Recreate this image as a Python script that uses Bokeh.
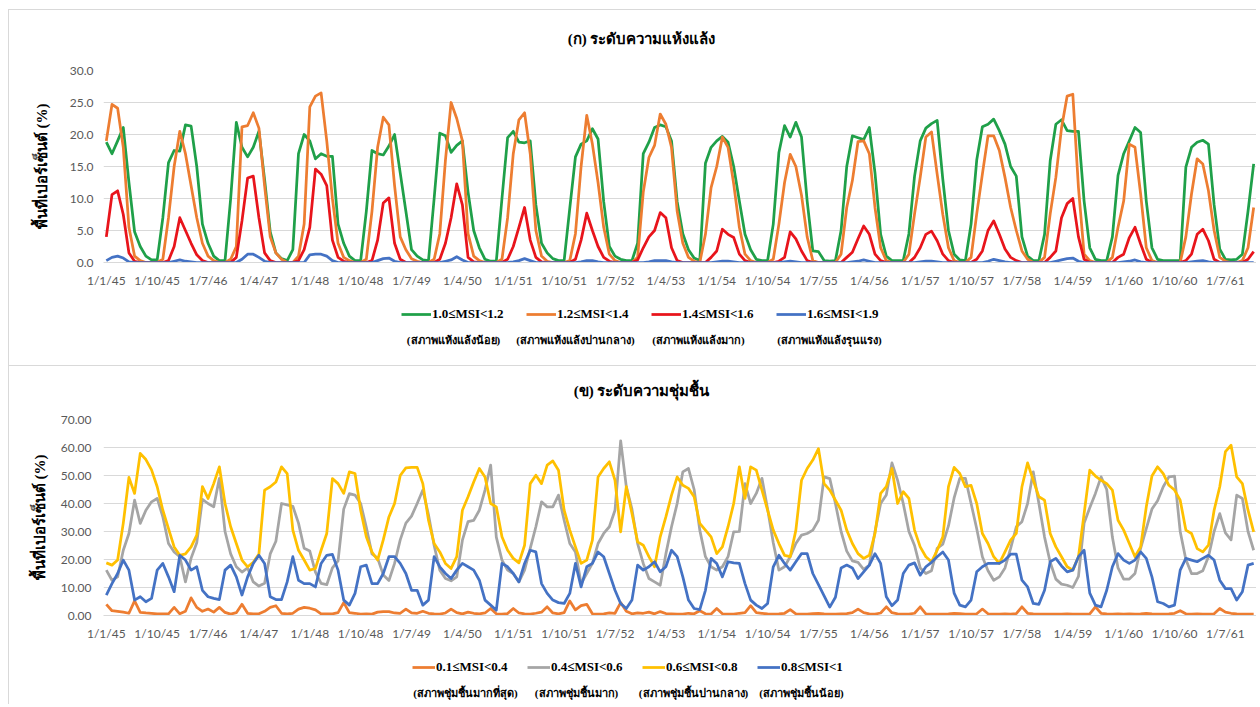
from bokeh.plotting import figure
from bokeh.models import Range1d, FixedTicker, NumeralTickFormatter, Legend, LegendItem, Label
from bokeh.layouts import column
from bokeh.embed import file_html
from bokeh.resources import INLINE

# ---------------- data ----------------
months = list(range(204))  # monthly, 1/1/45 .. 1/12/61

tick_labels = ["1/1/45", "1/10/45", "1/7/46", "1/4/47", "1/1/48", "1/10/48", "1/7/49",
               "1/4/50", "1/1/51", "1/10/51", "1/7/52", "1/4/53", "1/1/54", "1/10/54",
               "1/7/55", "1/4/56", "1/1/57", "1/10/57", "1/7/58", "1/4/59", "1/1/60",
               "1/10/60", "1/7/61"]

# (ก) drought levels, % area
dry_10_12 = [
    18.8, 17.0, 19.0, 21.1, 12.5, 4.8, 2.5, 1.0, 0.4, 0.4, 7.0, 15.6,
    17.5, 17.4, 21.5, 21.3, 15.0, 6.0, 3.0, 1.0, 0.3, 0.3, 10.0, 21.9,
    18.0, 16.5, 18.0, 20.5, 13.0, 4.8, 1.5, 0.6, 0.3, 2.0, 17.0, 20.0,
    19.0, 16.2, 17.0, 16.6, 16.6, 6.0, 3.0, 1.0, 0.3, 0.3, 8.0, 17.5,
    17.0, 16.8, 18.2, 20.0, 14.0, 8.0, 2.0, 1.0, 0.4, 0.3, 10.0, 20.2,
    19.8, 17.2, 18.3, 19.0, 11.0, 5.0, 2.3, 0.5, 0.2, 0.2, 10.0, 19.5,
    20.5, 18.8, 18.7, 19.0, 9.0, 3.0, 1.5, 0.6, 0.3, 0.3, 8.5, 16.5,
    18.5, 19.0, 20.9, 19.3, 9.5, 2.5, 1.0, 0.5, 0.3, 0.3, 3.0, 17.0,
    18.8, 21.1, 21.5, 21.2, 19.0, 9.5, 4.5, 2.0, 0.7, 0.3, 15.5, 18.0,
    19.0, 19.7, 18.8, 15.0, 9.6, 4.4, 2.0, 0.5, 0.3, 0.3, 6.0, 17.2,
    21.4, 19.6, 21.9, 19.6, 9.6, 1.8, 1.7, 0.3, 0.2, 0.3, 5.0, 15.0,
    19.8, 19.5, 19.2, 21.1, 14.0, 4.4, 1.0, 0.3, 0.3, 0.3, 4.5, 13.5,
    19.0, 21.0, 21.7, 22.2, 13.0, 5.0, 1.3, 0.4, 0.3, 6.0, 16.0, 21.2,
    21.6, 22.4, 20.6, 18.5, 15.0, 13.5, 4.0, 1.0, 0.3, 0.3, 4.4, 15.9,
    21.6, 22.3, 20.6, 20.5, 20.5, 9.6, 2.3, 0.5, 0.3, 0.3, 4.0, 13.6,
    17.0, 19.0, 21.1, 20.3, 9.6, 2.3, 0.5, 0.3, 0.3, 0.3, 0.3, 14.9,
    18.0, 18.8, 19.1, 18.5, 9.0, 2.1, 0.5, 0.4, 0.5, 1.3, 8.0, 15.4,
]
dry_12_14 = [
    19.0, 24.7, 24.1, 18.0, 5.5, 1.0, 0.3, 0.0, 0.0, 0.0, 0.5, 7.0,
    15.0, 20.5, 17.0, 12.0, 7.0, 3.0, 1.0, 0.3, 0.0, 0.0, 0.5, 2.5,
    21.2, 21.4, 23.4, 21.0, 12.0, 4.0, 1.5, 0.5, 0.0, 0.0, 1.0, 6.0,
    24.3, 26.0, 26.5, 19.0, 10.0, 3.0, 0.8, 0.3, 0.0, 0.0, 0.5, 8.0,
    18.0, 22.7, 21.5, 12.0, 4.0, 2.0, 0.6, 0.2, 0.0, 0.0, 0.5, 4.5,
    16.0, 25.0, 22.5, 19.0, 4.5, 1.0, 0.3, 0.0, 0.0, 0.0, 0.5, 7.0,
    17.0, 22.3, 23.4, 17.0, 5.0, 1.0, 0.2, 0.0, 0.0, 0.0, 0.3, 4.5,
    15.0, 23.0, 18.5, 12.5, 5.5, 1.3, 0.3, 0.0, 0.0, 0.0, 0.8, 11.0,
    16.4, 18.3, 23.2, 21.6, 18.0, 8.0, 3.0, 0.8, 0.2, 0.0, 4.4, 11.7,
    15.0, 19.6, 18.0, 12.3, 5.5, 1.3, 0.3, 0.0, 0.0, 0.0, 0.5, 6.0,
    12.5, 16.9, 15.0, 10.5, 4.0, 0.3, 0.0, 0.0, 0.0, 0.0, 1.3, 8.6,
    12.8, 18.9, 19.0, 17.0, 8.6, 2.3, 0.3, 0.0, 0.0, 0.0, 1.3, 7.6,
    13.3, 19.6, 20.4, 13.8, 7.5, 2.3, 0.3, 0.0, 0.0, 0.8, 7.6, 13.8,
    19.8, 19.8, 17.5, 13.3, 8.6, 5.0, 1.8, 0.5, 0.0, 0.0, 0.8, 7.6,
    13.3, 21.0, 26.0, 26.3, 11.7, 1.3, 0.3, 0.0, 0.0, 0.0, 0.8, 5.5,
    9.6, 18.5, 18.0, 10.7, 2.3, 0.3, 0.0, 0.0, 0.0, 0.0, 0.0, 4.0,
    10.7, 16.2, 15.4, 11.2, 5.0, 0.8, 0.2, 0.0, 0.0, 0.3, 2.3, 8.6,
]
dry_14_16 = [
    4.0, 10.6, 11.2, 7.5, 1.5, 0.2, 0, 0, 0, 0, 0, 0.3,
    2.5, 7.0, 5.0, 3.0, 1.2, 0.3, 0, 0, 0, 0, 0, 0.8,
    6.5, 13.2, 13.5, 7.0, 1.5, 0.3, 0, 0, 0, 0, 0.3, 2.0,
    5.5, 14.6, 13.8, 12.0, 3.5, 0.8, 0.2, 0, 0, 0, 0, 0.3,
    3.5, 9.3, 10.1, 3.0, 0.5, 0, 0, 0, 0, 0, 0, 0.5,
    3.0, 7.0, 12.3, 9.0, 0.8, 0.1, 0, 0, 0, 0, 0, 0.5,
    2.5, 5.5, 8.6, 3.5, 0.8, 0.1, 0, 0, 0, 0, 0, 0.5,
    3.5, 7.7, 5.0, 2.5, 0.8, 0.2, 0, 0, 0, 0, 0.4, 2.3,
    4.0, 5.0, 7.8, 7.0, 2.3, 0.3, 0, 0, 0, 0, 0, 0.8,
    1.8, 5.2, 4.4, 3.9, 1.3, 0.3, 0, 0, 0, 0, 0, 0.2,
    0.8, 4.8, 3.7, 1.8, 0.3, 0, 0, 0, 0, 0, 0, 0.8,
    1.6, 3.7, 5.7, 4.4, 1.3, 0.3, 0, 0, 0, 0, 0, 0.8,
    2.3, 4.4, 4.9, 3.4, 1.3, 0.3, 0, 0, 0, 0, 0.5, 1.8,
    5.0, 6.5, 4.4, 2.1, 0.8, 0.3, 0, 0, 0, 0, 0, 0.8,
    1.8, 7.0, 9.2, 10.0, 4.0, 0.5, 0, 0, 0, 0, 0, 0.8,
    1.3, 3.9, 5.5, 2.9, 0.5, 0, 0, 0, 0, 0, 0, 0.3,
    1.3, 4.4, 5.2, 3.4, 0.5, 0, 0, 0, 0, 0, 0.5, 1.7,
]
dry_16_19 = [
    0.3, 0.8, 1.0, 0.7, 0.1, 0, 0, 0, 0, 0, 0, 0,
    0.2, 0.4, 0.2, 0.1, 0, 0, 0, 0, 0, 0, 0, 0,
    0.5, 1.3, 1.3, 0.8, 0.2, 0, 0, 0, 0, 0, 0, 0,
    1.2, 1.3, 1.3, 1.0, 0.3, 0, 0, 0, 0, 0, 0, 0,
    0.3, 0.6, 0.7, 0.2, 0, 0, 0, 0, 0, 0, 0, 0,
    0.2, 0.4, 0.9, 0.4, 0, 0, 0, 0, 0, 0, 0, 0,
    0.1, 0.3, 0.6, 0.3, 0, 0, 0, 0, 0, 0, 0, 0,
    0.1, 0.3, 0.3, 0.1, 0, 0, 0, 0, 0, 0, 0, 0,
    0.1, 0.3, 0.3, 0.3, 0.1, 0, 0, 0, 0, 0, 0, 0,
    0.1, 0.2, 0.2, 0.1, 0, 0, 0, 0, 0, 0, 0, 0,
    0.1, 0.2, 0.1, 0, 0, 0, 0, 0, 0, 0, 0, 0,
    0.1, 0.2, 0.4, 0.2, 0, 0, 0, 0, 0, 0, 0, 0,
    0.1, 0.2, 0.2, 0.1, 0, 0, 0, 0, 0, 0, 0, 0,
    0.2, 0.5, 0.3, 0.1, 0, 0, 0, 0, 0, 0, 0, 0,
    0.2, 0.4, 0.6, 0.7, 0.2, 0, 0, 0, 0, 0, 0, 0,
    0.1, 0.2, 0.4, 0.1, 0, 0, 0, 0, 0, 0, 0, 0,
    0.1, 0.2, 0.3, 0.1, 0, 0, 0, 0, 0, 0, 0, 0,
]

# (ข) wetness levels, % area
wet_01_04 = [
    4.0, 1.7, 1.5, 1.2, 0.8, 5.2, 1.1, 0.9, 0.8, 0.6, 0.6, 0.6,
    2.9, 0.6, 1.5, 6.3, 2.9, 1.5, 2.3, 1.2, 2.9, 1.1, 0.5, 1.0,
    4.0, 0.8, 0.6, 0.6, 1.5, 2.9, 3.5, 0.8, 0.6, 0.8, 2.3, 2.9,
    2.6, 2.0, 0.6, 0.6, 0.6, 1.0, 4.6, 1.0, 0.8, 0.5, 0.6, 0.5,
    1.2, 1.4, 1.4, 0.9, 0.8, 2.3, 0.9, 0.8, 1.5, 0.8, 0.6, 0.5,
    0.9, 2.3, 1.0, 0.6, 1.2, 0.8, 0.6, 0.9, 2.5, 0.6, 0.5, 0.7,
    2.5, 0.9, 0.6, 0.5, 0.8, 1.2, 3.1, 0.9, 0.6, 1.0, 5.2, 2.0,
    3.5, 4.0, 0.6, 0.5, 0.6, 0.9, 0.8, 4.6, 1.5, 0.6, 0.9, 0.8,
    1.2, 0.6, 1.4, 0.7, 0.6, 0.5, 0.5, 0.8, 0.6, 1.7, 0.6, 0.5,
    2.5, 0.6, 0.5, 0.5, 0.8, 1.0, 3.5, 1.0, 0.8, 0.6, 0.5, 0.6,
    0.8, 2.1, 0.6, 0.5, 0.5, 0.7, 0.8, 0.6, 0.5, 0.5, 0.6, 0.7,
    1.0, 2.3, 1.0, 0.6, 0.5, 0.9, 3.1, 1.0, 0.6, 0.5, 0.5, 0.8,
    3.1, 0.6, 0.5, 0.5, 0.5, 0.6, 0.8, 0.7, 0.5, 0.5, 0.6, 2.3,
    0.6, 0.5, 0.5, 0.6, 0.5, 0.7, 3.1, 0.8, 0.6, 0.5, 0.5, 0.5,
    0.5, 0.5, 0.6, 0.5, 0.5, 0.5, 0.6, 3.1, 0.8, 0.6, 0.5, 0.6,
    0.5, 0.6, 0.5, 0.6, 0.8, 0.6, 0.5, 0.5, 0.6, 0.8, 1.7, 0.6,
    0.5, 0.6, 0.5, 0.5, 0.6, 2.5, 1.2, 0.8, 0.6, 0.5, 0.5, 0.5,
]
wet_04_06 = [
    16.2, 12.6, 13.8, 23.3, 29.3, 41.2, 32.9, 37.6, 40.6, 41.8, 35.2, 25.7,
    22.7, 21.0, 12.0, 20.5, 26.0, 41.5, 40.0, 38.8, 49.0, 30.0, 22.0, 17.4,
    15.5, 17.0, 12.0, 10.5, 11.5, 22.0, 26.5, 40.0, 39.5, 39.0, 33.0, 24.0,
    23.0, 15.5, 11.5, 11.0, 17.0, 19.5, 38.0, 43.5, 43.0, 40.0, 31.5, 22.0,
    20.5, 14.5, 12.5, 18.6, 27.0, 33.0, 35.5, 40.0, 44.8, 36.0, 25.0, 16.2,
    13.2, 12.4, 13.8, 26.9, 33.5, 34.0, 37.6, 44.8, 53.7, 28.0, 19.8, 16.2,
    15.0, 12.0, 16.2, 24.0, 31.7, 40.6, 38.8, 38.8, 43.0, 34.0, 25.7, 22.7,
    11.4, 15.0, 18.6, 25.7, 29.3, 31.7, 37.6, 62.4, 46.0, 38.0, 25.7, 18.6,
    13.2, 12.0, 10.8, 22.0, 31.7, 40.0, 51.3, 52.5, 45.0, 30.5, 21.0, 17.4,
    16.2, 17.4, 21.0, 29.9, 30.0, 47.1, 40.0, 43.6, 49.0, 38.0, 26.0, 16.2,
    17.4, 21.0, 25.7, 28.7, 29.3, 30.5, 34.0, 49.5, 48.9, 40.0, 30.0, 23.0,
    19.5, 19.0, 16.5, 18.0, 30.0, 40.0, 43.0, 54.5, 48.3, 40.0, 30.0, 25.0,
    17.0, 15.0, 16.0, 24.0, 25.5, 32.0, 42.0, 49.0, 49.0, 40.0, 31.0, 21.0,
    16.0, 12.6, 13.8, 17.0, 24.0, 31.7, 33.5, 40.0, 51.3, 40.0, 28.0, 19.0,
    13.0, 11.2, 10.8, 10.0, 14.0, 33.0, 38.5, 43.6, 49.5, 45.0, 28.0, 17.0,
    13.0, 13.0, 15.0, 24.0, 31.0, 38.0, 41.0, 46.0, 49.5, 49.8, 30.0, 20.0,
    15.0, 15.0, 16.0, 21.0, 30.0, 36.4, 29.5, 27.0, 43.0, 41.8, 30.0, 23.3,
]
wet_06_08 = [
    18.8, 18.0, 19.8, 33.0, 49.3, 43.6, 57.9, 55.7, 52.0, 46.0, 37.6, 31.0,
    24.5, 21.5, 22.0, 24.5, 28.7, 46.0, 41.8, 47.1, 53.1, 40.0, 31.7, 25.7,
    19.8, 17.4, 19.0, 22.0, 44.8, 46.0, 47.7, 53.1, 50.7, 30.5, 23.3, 19.8,
    16.2, 16.8, 23.3, 29.3, 48.9, 47.1, 43.6, 51.3, 50.7, 37.6, 28.1, 22.7,
    19.8, 27.0, 35.2, 40.0, 50.0, 52.7, 52.9, 52.9, 47.1, 34.0, 25.7, 22.7,
    18.6, 16.8, 21.0, 37.6, 42.4, 47.7, 52.5, 49.5, 40.0, 38.8, 28.1, 23.3,
    20.4, 18.8, 25.1, 47.1, 50.1, 47.1, 53.7, 55.2, 51.9, 37.6, 30.5, 24.5,
    18.6, 19.8, 26.9, 49.5, 52.5, 54.9, 48.3, 29.9, 46.0, 36.4, 26.3, 25.1,
    21.0, 17.4, 28.1, 35.2, 43.0, 49.5, 46.5, 45.4, 42.4, 32.9, 30.5, 28.1,
    22.1, 24.5, 31.7, 40.0, 53.1, 41.8, 53.1, 51.9, 44.8, 37.6, 30.5, 25.7,
    21.5, 21.0, 30.5, 48.3, 52.5, 55.5, 59.6, 47.1, 44.8, 41.2, 37.6, 30.5,
    25.7, 22.1, 20.4, 21.5, 29.3, 43.6, 46.0, 52.5, 40.0, 44.2, 41.8, 30.5,
    24.5, 21.0, 19.2, 23.3, 28.1, 46.0, 52.9, 50.7, 46.0, 46.5, 40.0, 29.3,
    25.7, 21.0, 18.6, 22.7, 26.9, 29.3, 46.0, 54.5, 48.3, 42.4, 41.2, 29.3,
    24.5, 21.0, 17.4, 16.2, 21.0, 36.4, 51.9, 49.8, 48.3, 47.1, 44.8, 34.0,
    30.5, 25.7, 21.0, 24.5, 38.8, 49.8, 53.1, 50.7, 46.5, 44.8, 41.2, 30.5,
    29.3, 23.9, 22.7, 25.1, 37.6, 46.0, 58.5, 60.8, 49.5, 47.1, 37.6, 29.9,
]
wet_08_10 = [
    7.3, 11.4, 15.0, 19.8, 16.2, 5.5, 6.7, 4.9, 6.1, 16.2, 18.6, 13.8,
    8.5, 21.5, 19.8, 16.2, 17.4, 9.0, 6.7, 6.1, 5.7, 16.2, 18.0, 13.8,
    7.3, 13.8, 18.6, 21.5, 18.6, 6.7, 5.7, 5.7, 12.0, 21.0, 12.6, 11.4,
    11.4, 10.2, 18.6, 21.5, 21.8, 16.2, 5.5, 3.7, 7.9, 17.4, 18.0, 11.4,
    11.4, 15.0, 21.0, 21.0, 18.6, 15.0, 9.0, 9.0, 3.7, 5.5, 21.0, 17.4,
    15.0, 13.2, 16.2, 18.6, 17.4, 16.2, 12.6, 5.5, 3.7, 1.9, 18.6, 17.4,
    15.0, 12.0, 18.6, 23.3, 22.7, 11.4, 7.9, 5.5, 4.6, 4.3, 7.9, 18.6,
    10.2, 17.4, 18.6, 22.7, 21.0, 15.0, 9.0, 4.3, 2.5, 5.5, 18.0, 16.2,
    17.4, 19.2, 15.6, 17.4, 23.3, 21.0, 13.8, 5.5, 2.5, 2.1, 9.0, 20.4,
    18.6, 13.8, 19.2, 18.8, 18.6, 11.4, 5.5, 3.7, 2.5, 4.3, 17.4, 21.5,
    18.6, 16.2, 19.2, 22.1, 22.1, 15.0, 11.0, 7.0, 3.0, 6.5, 17.0, 18.0,
    17.0, 13.2, 15.6, 18.0, 22.1, 18.6, 6.7, 3.5, 5.5, 15.0, 18.0, 18.8,
    14.4, 17.4, 19.0, 21.0, 22.7, 19.8, 8.0, 3.7, 3.1, 5.5, 15.6, 17.4,
    18.6, 18.6, 18.6, 19.8, 21.9, 21.9, 12.6, 10.2, 4.3, 4.0, 9.0, 19.2,
    20.4, 17.7, 15.6, 16.2, 21.0, 23.3, 8.0, 3.7, 3.1, 9.0, 17.4, 22.1,
    19.8, 18.6, 19.8, 22.7, 20.4, 13.8, 4.9, 4.3, 3.1, 3.7, 16.2, 20.4,
    19.8, 19.2, 20.4, 21.5, 19.8, 12.6, 9.6, 9.6, 5.5, 8.5, 18.0, 18.6,
]

dry_names = ["1.0\u2264MSI<1.2", "1.2\u2264MSI<1.4", "1.4\u2264MSI<1.6", "1.6\u2264MSI<1.9"]
dry_desc = ["(สภาพแห้งแล้งน้อย)", "(สภาพแห้งแล้งปานกลาง)", "(สภาพแห้งแล้งมาก)", "(สภาพแห้งแล้งรุนแรง)"]
wet_names = ["0.1\u2264MSI<0.4", "0.4\u2264MSI<0.6", "0.6\u2264MSI<0.8", "0.8\u2264MSI<1"]
wet_desc = ["(สภาพชุ่มชื้นมากที่สุด)", "(สภาพชุ่มชื้นมาก)", "(สภาพชุ่มชื้นปานกลาง)", "(สภาพชุ่มชื้นน้อย)"]
dry_colors = ["#1fa049", "#ed7d31", "#e8141b", "#4472c4"]
wet_colors = ["#ed7d31", "#a5a5a5", "#ffc000", "#4472c4"]

TITLE_1 = "(ก) ระดับความแห้งแล้ง"
TITLE_2 = "(ข) ระดับความชุ่มชื้น"
YLABEL = "พื้นที่เปอร์เซ็นต์ (%)"

TEXT_FONT = "Liberation Serif"
TICK_FONT = "Lato"
W = 1248          # width of every figure
FL = 94           # frame left (same for all figures, they are frame-aligned in the column)
GRID = "#d9d9d9"
BORDER = "1px solid #d9d9d9"

tick_pos = list(range(0, 204, 9))


def blank_fig(height):
    q = figure(width=W, height=height, x_range=Range1d(-0.5, 203.5), y_range=Range1d(0, 1),
               toolbar_location=None, output_backend="svg",
               min_border_left=FL, min_border_right=1, min_border_top=0, min_border_bottom=0,
               x_axis_location=None, y_axis_location=None)
    q.outline_line_color = None
    q.grid.visible = False
    return q


def title_fig(height, text, y):
    q = blank_fig(height)
    q.add_layout(Label(x=640 - 8 - FL, y=y, x_units="screen", y_units="screen", text=text,
                       text_align="center", text_baseline="middle", text_font=TEXT_FONT,
                       text_font_style="bold", text_font_size="15px", text_color="#000000"))
    return q


def make_chart(height, top, bottom, ymax, ystep, fmt, series, colors, ylab_standoff, ytick_standoff):
    p = figure(width=W, height=height, x_range=Range1d(-0.5, 203.5), y_range=Range1d(0, ymax),
               toolbar_location=None, output_backend="svg",
               min_border_left=FL, min_border_right=1, min_border_top=top, min_border_bottom=bottom)
    p.outline_line_color = None
    p.xgrid.visible = False
    p.ygrid.grid_line_color = GRID
    p.ygrid.grid_line_width = 1

    p.xaxis.ticker = FixedTicker(ticks=tick_pos)
    p.xaxis.major_label_overrides = {t: l for t, l in zip(tick_pos, tick_labels)}
    p.xaxis.axis_line_color = GRID
    p.xaxis.major_tick_line_color = None
    p.xaxis.major_tick_out = 0
    p.xaxis.major_tick_in = 0
    p.xaxis.minor_tick_line_color = None
    p.xaxis.major_label_text_font = TICK_FONT
    p.xaxis.major_label_text_font_size = "12px"
    p.xaxis.major_label_text_color = "#595959"
    p.xaxis.major_label_standoff = 10

    p.yaxis.ticker = FixedTicker(ticks=list(range(0, ymax + 1, ystep)))
    p.yaxis.formatter = NumeralTickFormatter(format=fmt)
    p.yaxis.axis_line_color = None
    p.yaxis.major_tick_line_color = None
    p.yaxis.major_tick_out = 0
    p.yaxis.major_tick_in = 0
    p.yaxis.minor_tick_line_color = None
    p.yaxis.major_label_text_font = TICK_FONT
    p.yaxis.major_label_text_font_size = "12px"
    p.yaxis.major_label_text_color = "#595959"
    p.yaxis.major_label_standoff = ytick_standoff
    p.yaxis.axis_label = YLABEL
    p.yaxis.axis_label_text_font = TEXT_FONT
    p.yaxis.axis_label_text_font_style = "bold"
    p.yaxis.axis_label_text_font_size = "15px"
    p.yaxis.axis_label_text_color = "#000000"
    p.yaxis.axis_label_standoff = ylab_standoff

    for s, c in zip(series, colors):
        p.line(months, s, line_color=c, line_width=2.75, line_join="round")
    return p


def legend_fig(height, series, names, descs, colors, leg_x, leg_y, pitch, glyph_w, label_w,
               desc_x, desc_y):
    q = blank_fig(height)
    # hidden copies of the series: they only feed the legend swatches
    rends = [q.line(months, s, line_color=c, line_width=2.75, visible=False)
             for s, c in zip(series, colors)]
    q.add_layout(Legend(items=[LegendItem(label=n, renderers=[r]) for n, r in zip(names, rends)],
                        orientation="horizontal", location=(leg_x, leg_y),
                        glyph_width=glyph_w, glyph_height=16, label_width=label_w, label_height=16,
                        label_standoff=1, spacing=pitch - glyph_w - label_w - 1, padding=0, margin=0,
                        border_line_color=None, background_fill_alpha=0, inactive_fill_alpha=0,
                        label_text_font=TEXT_FONT, label_text_font_style="bold",
                        label_text_font_size="13px", label_text_color="#000000"))
    for d, dx in zip(descs, desc_x):
        q.add_layout(Label(x=dx - 8 - FL, y=desc_y, x_units="screen", y_units="screen", text=d,
                           text_align="center", text_baseline="middle", text_font=TEXT_FONT,
                           text_font_style="bold", text_font_size="11px", text_color="#000000"))
    return q


dry_series = [dry_10_12, dry_12_14, dry_14_16, dry_16_19]
wet_series = [wet_01_04, wet_04_06, wet_06_08, wet_08_10]

title1 = title_fig(41, TITLE_1, 13)
title1.styles = {"border-left": BORDER, "border-top": BORDER}
chart1 = make_chart(246, 20, 34, 30, 5, "0.0", dry_series, dry_colors, 17, 10)
chart1.styles = {"border-left": BORDER}
legend1 = legend_fig(70, dry_series, dry_names, dry_desc, dry_colors,
                     400 - 8 - FL, 44, 125, 30, 80, [452, 574, 697, 828], 27)
legend1.styles = {"border-left": BORDER, "border-bottom": BORDER}

title2 = title_fig(39, TITLE_2, 15)
title2.styles = {"border-left": BORDER}
chart2 = make_chart(243, 14, 33, 70, 10, "0.00", wet_series, wet_colors, 10, 12)
chart2.styles = {"border-left": BORDER}
legend2 = legend_fig(56, wet_series, wet_names, wet_desc, wet_colors,
                     411 - 8 - FL, 29, 115, 23, 82, [464, 575, 692, 800], 12)
legend2.styles = {"border-left": BORDER}

layout = column(title1, chart1, legend1, title2, chart2, legend2, spacing=0, margin=(9, 0, 0, 8))
open("out.html", "w").write(file_html(layout, INLINE))
